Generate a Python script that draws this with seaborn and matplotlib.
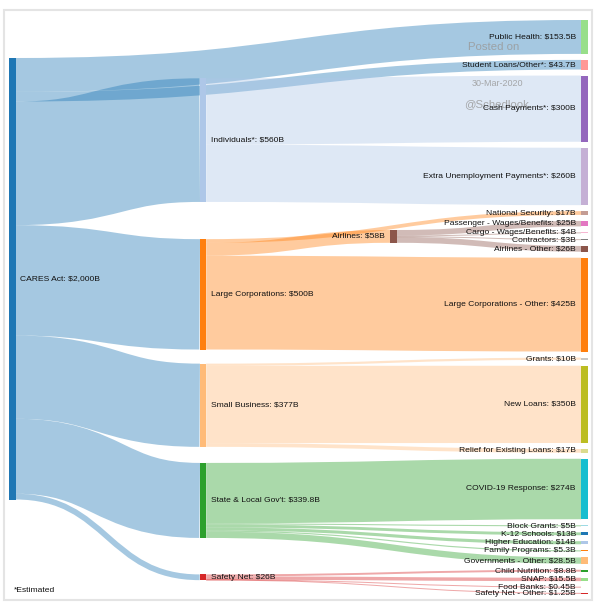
import matplotlib
matplotlib.use("Agg")
import matplotlib.pyplot as plt
from matplotlib.path import Path
from matplotlib.patches import PathPatch, Rectangle
import seaborn as sns

# ---------------- data ----------------
node_names = [
    "CARES Act", "Individuals*", "Large Corporations", "Small Business",
    "State & Local Gov't", "Public Health", "Safety Net", "Student Loans/Other*",
    "Cash Payments*", "Extra Unemployment Payments*", "Airlines", "National Security",
    "Passenger - Wages/Benefits", "Cargo - Wages/Benefits", "Contractors",
    "Airlines - Other", "Large Corporations - Other", "Grants", "New Loans",
    "Relief for Existing Loans", "COVID-19 Response", "Block Grants", "K-12 Schools",
    "Higher Education", "Family Programs", "Governments - Other", "Child Nutrition",
    "SNAP", "Food Banks", "Safety Net - Other",
]

link_sources = [
    "CARES Act", "CARES Act", "CARES Act", "CARES Act", "CARES Act", "CARES Act", "CARES Act",
    "Individuals*", "Individuals*",
    "Large Corporations", "Large Corporations", "Large Corporations",
    "Airlines", "Airlines", "Airlines", "Airlines",
    "Small Business", "Small Business", "Small Business",
    "State & Local Gov't", "State & Local Gov't", "State & Local Gov't",
    "State & Local Gov't", "State & Local Gov't", "State & Local Gov't",
    "Safety Net", "Safety Net", "Safety Net", "Safety Net",
]
link_targets = [
    "Public Health", "Student Loans/Other*", "Individuals*", "Large Corporations",
    "Small Business", "State & Local Gov't", "Safety Net",
    "Cash Payments*", "Extra Unemployment Payments*",
    "National Security", "Airlines", "Large Corporations - Other",
    "Passenger - Wages/Benefits", "Cargo - Wages/Benefits", "Contractors", "Airlines - Other",
    "Grants", "New Loans", "Relief for Existing Loans",
    "COVID-19 Response", "Block Grants", "K-12 Schools", "Higher Education",
    "Family Programs", "Governments - Other",
    "Child Nutrition", "SNAP", "Food Banks", "Safety Net - Other",
]
link_values = [
    153.5, 43.7, 560, 500, 377, 339.8, 26,
    300, 260,
    17, 58, 425,
    25, 4, 3, 26,
    10, 350, 17,
    274, 5, 13, 14, 5.3, 28.5,
    8.8, 15.5, 0.45, 1.25,
]

footnote = "*Estimated"
watermark_lines = ["Posted on", "30-Mar-2020", "@Schedlook"]


# ---------------- d3-sankey style layout (input order kept) ----------------
class Node:
    def __init__(self, name, index):
        self.name = name
        self.index = index
        self.sourceLinks = []
        self.targetLinks = []


class Link:
    def __init__(self, s, t, v, i):
        self.source = s
        self.target = t
        self.value = v
        self.index = i


def sankey(nodes, links, X0, Y0, X1, Y1, dx, pad, iterations=6):
    for l in links:
        l.source.sourceLinks.append(l)
        l.target.targetLinks.append(l)
    for n in nodes:
        n.value = max(sum(l.value for l in n.sourceLinks),
                      sum(l.value for l in n.targetLinks))
    current, x = list(nodes), 0
    while current:
        nxt = []
        for n in current:
            n.depth = x
            for l in n.sourceLinks:
                if all(l.target is not m for m in nxt):
                    nxt.append(l.target)
        x += 1
        current = nxt
    ncol = max(n.depth for n in nodes) + 1
    kx = (X1 - X0 - dx) / (ncol - 1)
    columns = [[] for _ in range(ncol)]
    for n in nodes:
        n.layer = n.depth if n.sourceLinks else ncol - 1
        n.x0 = X0 + n.layer * kx
        n.x1 = n.x0 + dx
        columns[n.layer].append(n)
    py = min(pad, (Y1 - Y0) / (max(len(c) for c in columns) - 1))

    ky = min((Y1 - Y0 - (len(c) - 1) * py) / sum(n.value for n in c) for c in columns)
    for col in columns:
        y = Y0
        for n in col:
            n.y0 = y
            n.y1 = y + n.value * ky
            y = n.y1 + py
            for l in n.sourceLinks:
                l.width = l.value * ky
        y = (Y1 - y + py) / (len(col) + 1)
        for i, n in enumerate(col):
            n.y0 += y * (i + 1)
            n.y1 += y * (i + 1)

    def target_top(s, t):
        y = s.y0 - (len(s.sourceLinks) - 1) * py / 2
        for l in s.sourceLinks:
            if l.target is t:
                break
            y += l.width + py
        for l in t.targetLinks:
            if l.source is s:
                break
            y -= l.width
        return y

    def source_top(s, t):
        y = t.y0 - (len(t.targetLinks) - 1) * py / 2
        for l in t.targetLinks:
            if l.source is s:
                break
            y += l.width + py
        for l in s.sourceLinks:
            if l.target is t:
                break
            y -= l.width
        return y

    def top_to_bottom(col, y, i, a):
        while i < len(col):
            n = col[i]
            d = (y - n.y0) * a
            if d > 1e-6:
                n.y0 += d
                n.y1 += d
            y = n.y1 + py
            i += 1

    def bottom_to_top(col, y, i, a):
        while i >= 0:
            n = col[i]
            d = (n.y1 - y) * a
            if d > 1e-6:
                n.y0 -= d
                n.y1 -= d
            y = n.y0 - py
            i -= 1

    def resolve(col, a):
        i = len(col) >> 1
        sub = col[i]
        bottom_to_top(col, sub.y0 - py, i - 1, a)
        top_to_bottom(col, sub.y1 + py, i + 1, a)
        bottom_to_top(col, Y1, len(col) - 1, a)
        top_to_bottom(col, Y0, 0, a)

    def relax_right_to_left(alpha, beta):
        for ci in range(len(columns) - 2, -1, -1):
            col = columns[ci]
            for s in col:
                y = w = 0
                for l in s.sourceLinks:
                    v = l.value * (l.target.layer - s.layer)
                    y += source_top(s, l.target) * v
                    w += v
                if not w > 0:
                    continue
                d = (y / w - s.y0) * alpha
                s.y0 += d
                s.y1 += d
            resolve(col, beta)

    def relax_left_to_right(alpha, beta):
        for ci in range(1, len(columns)):
            col = columns[ci]
            for t in col:
                y = w = 0
                for l in t.targetLinks:
                    v = l.value * (t.layer - l.source.layer)
                    y += target_top(l.source, t) * v
                    w += v
                if not w > 0:
                    continue
                d = (y / w - t.y0) * alpha
                t.y0 += d
                t.y1 += d
            resolve(col, beta)

    for it in range(iterations):
        alpha = 0.99 ** it
        beta = max(1 - alpha, (it + 1) / iterations)
        relax_right_to_left(alpha, beta)
        relax_left_to_right(alpha, beta)
    relax_right_to_left(1.0, 1.0)

    for n in nodes:
        a = b = n.y0
        for l in n.sourceLinks:
            l.y0 = a + l.width / 2
            a += l.width
        for l in n.targetLinks:
            l.y1 = b + l.width / 2
            b += l.width


nodes = [Node(n, i) for i, n in enumerate(node_names)]
by_name = {n.name: n for n in nodes}
links = [Link(by_name[s], by_name[t], v, i)
         for i, (s, t, v) in enumerate(zip(link_sources, link_targets, link_values))]

W, H = 600, 612
sankey(nodes, links, 9, 20, 587.5, 593.5, 6.5, 6)

# ---------------- colours ----------------
sns.set_theme(style="white")
palette = sns.color_palette("tab20")
color_keys = {}


def color_of(name):
    key = name.split(" ")[0]
    if key not in color_keys:
        color_keys[key] = palette[len(color_keys) % len(palette)]
    return color_keys[key]


plt.rcParams["font.family"] = ["Liberation Sans", "DejaVu Sans"]

fig = plt.figure(figsize=(W / 100, H / 100), dpi=100)
ax = fig.add_axes([0, 0, 1, 1])
ax.set_xlim(0, W)
ax.set_ylim(H, 0)
ax.axis("off")

# frame
ax.add_patch(Rectangle((4, 10), 588, 590, fill=False, edgecolor="#e4e4e4", lw=1.5, zorder=0))

# nodes
for n in nodes:
    ax.add_patch(Rectangle((n.x0, n.y0), n.x1 - n.x0, n.y1 - n.y0,
                           facecolor=color_of(n.name), edgecolor="none", zorder=3))

# links
px2pt = 72 / 100
for l in links:
    xa, xb = l.source.x1, l.target.x0
    xm = (xa + xb) / 2
    path = Path([(xa, l.y0), (xm, l.y0), (xm, l.y1), (xb, l.y1)],
                [Path.MOVETO, Path.CURVE4, Path.CURVE4, Path.CURVE4])
    ax.add_patch(PathPatch(path, fill=False, edgecolor=color_of(l.source.name),
                           alpha=0.4, lw=max(1, l.width) * px2pt, capstyle="butt", zorder=2))

# watermark
ax.text(494, 47, watermark_lines[0], ha="center", va="center", fontsize=8.2,
        color="#9a9a9a", alpha=0.85, zorder=4)
ax.text(497, 83, watermark_lines[1], ha="center", va="center", fontsize=6.5,
        color="#9a9a9a", alpha=0.85, zorder=4)
ax.text(497, 104, watermark_lines[2], ha="center", va="center", fontsize=8.2,
        color="#9a9a9a", alpha=0.85, zorder=4)

# labels
for n in nodes:
    label = f"{n.name}: ${format(round(n.value, 2), ',g')}B"
    yc = (n.y0 + n.y1) / 2
    if n.x0 < W / 2:
        ax.text(n.x1 + 5, yc, label, ha="left", va="center", fontsize=6.1,
                color="#111111", zorder=5)
    else:
        ax.text(n.x0 - 5, yc, label, ha="right", va="center", fontsize=6.1,
                color="#111111", zorder=5)

ax.text(14, 590, footnote, ha="left", va="center", fontsize=6.1, color="#111111", zorder=5)

fig.savefig("out.png", dpi=100)
